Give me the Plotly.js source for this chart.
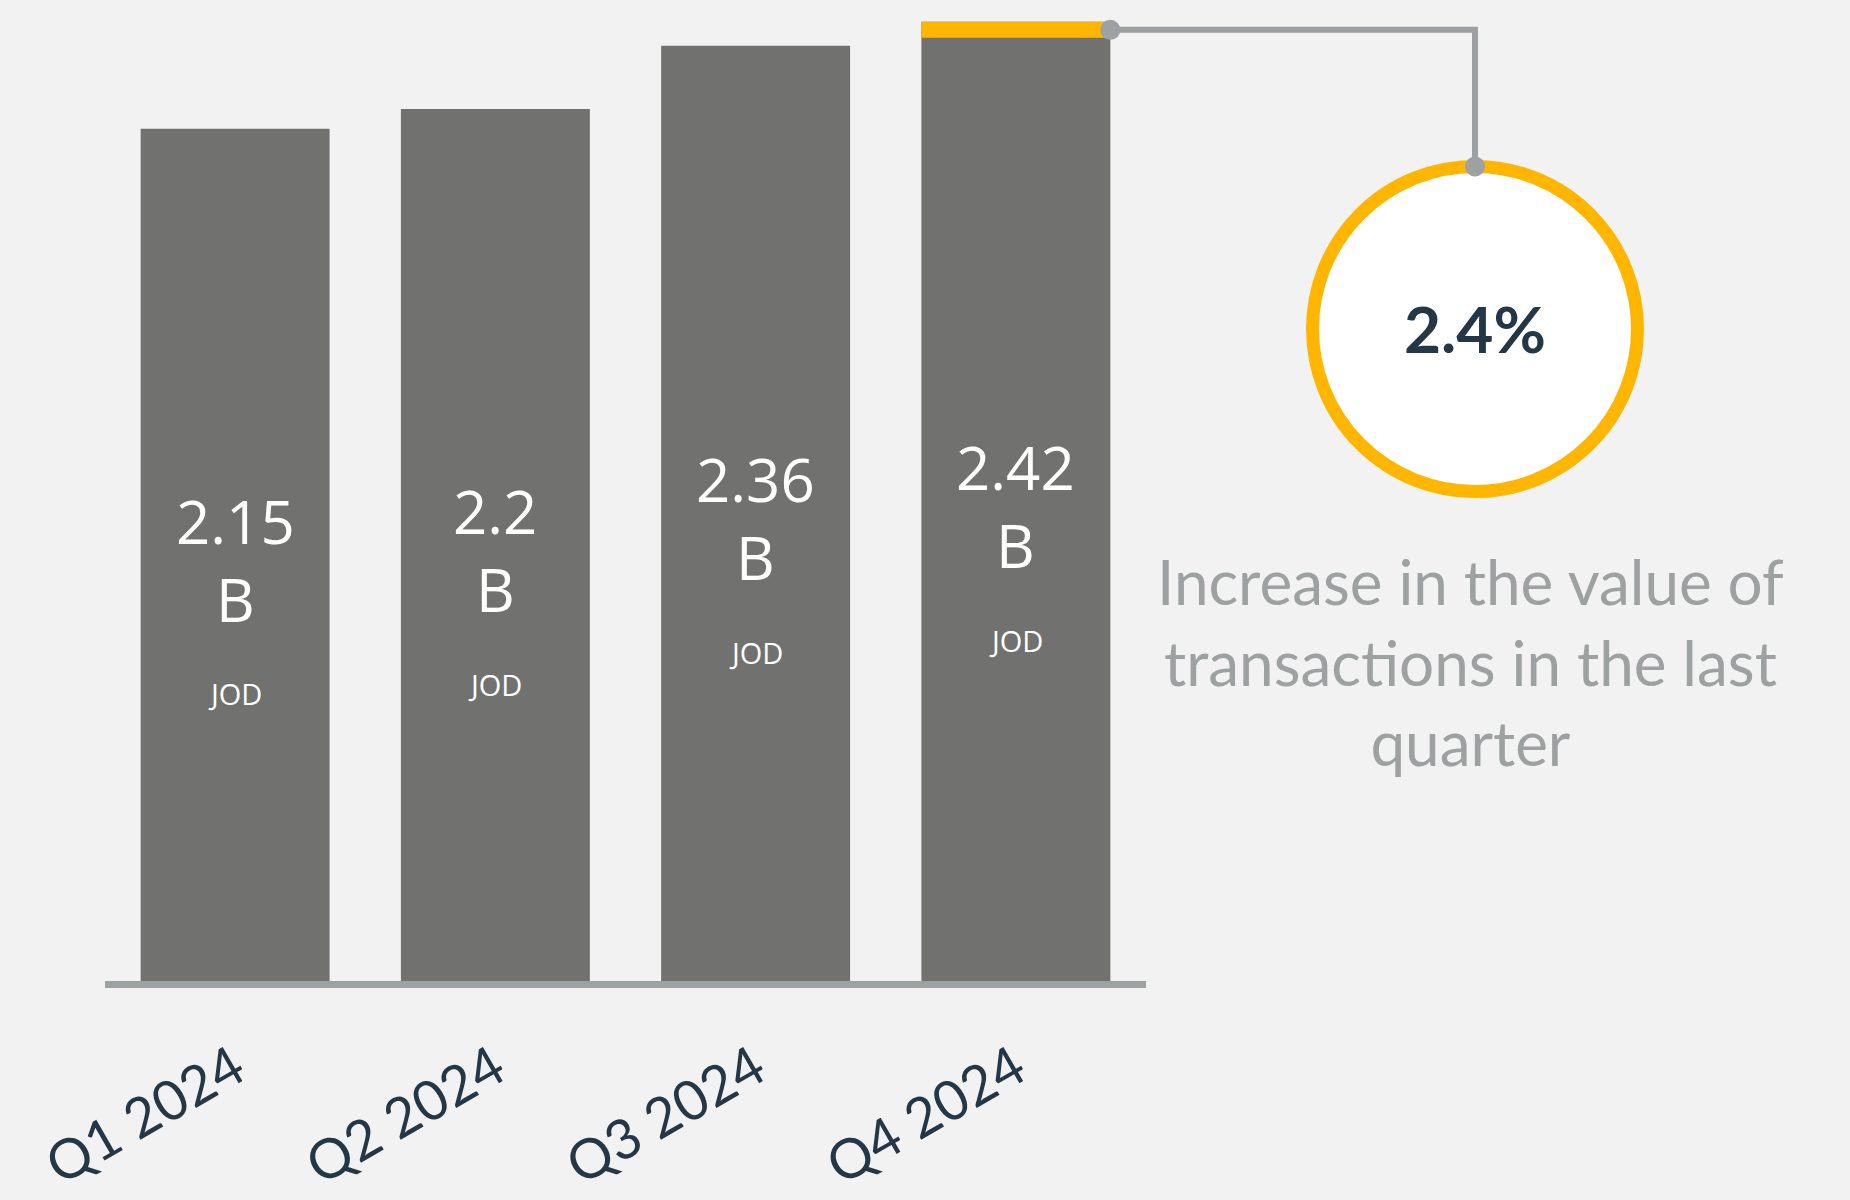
<!DOCTYPE html>
<html>
<head>
<meta charset="utf-8">
<script src="https://cdn.plot.ly/plotly-3.0.1.min.js"></script>
<style>html,body{margin:0;padding:0;background:#F2F2F2;}#chart{width:1850px;height:1200px;}</style>
</head>
<body>
<div id="chart"></div>
<script>
// ---- data ----
const quarters = ["Q1 2024", "Q2 2024", "Q3 2024", "Q4 2024"];
const values = [2.15, 2.2, 2.36, 2.42];          // billions JOD
const valueLabels = ["2.15", "2.2", "2.36", "2.42"];
const unitLabel = "B";
const currencyLabel = "JOD";
const changeLabel = "2.4%";
const changeText = "Increase in the value of<br>transactions in the last<br>quarter";

// ---- styling / geometry ----
const W = 1850, H = 1200;
const mL = 105, mR = 704, mT = 6, mB = 219;
const plotW = W - mL - mR, plotH = H - mT - mB;
const yMax = 2.46;
const bargap = 0.274;
const barHalf = (1 - bargap) / 2;
const barColor = "#717270";
const yellow = "#FFB600";
const grey = "#9EA1A1";
const navy = "#243746";

const pxToPaperX = p => (p - mL) / plotW;
const pxToPaperY = p => (H - mB - p) / plotH;

const last = values.length - 1;
// connector start: right edge of last bar, centre of the yellow cap
const capPx = 16;
const startX = (last + barHalf + 0.5) / values.length;
const startY = values[last] / yMax - (capPx / 2) / plotH;
// circle
const cX = pxToPaperX(1475), cY = pxToPaperY(329);
const rPx = 162.5;
const circleTopY = cY + rPx / plotH;

const trace = {
  type: "bar",
  x: quarters,
  y: values,
  marker: {color: barColor, line: {width: 0}},
  hoverinfo: "none"
};

const annotations = [];
quarters.forEach((q, i) => {
  annotations.push({x: q, y: values[i] / 2, xref: "x", yref: "y", text: valueLabels[i],
    showarrow: false, xanchor: "center", yshift: 34, font: {family: "Open Sans", size: 60, color: "#FFFFFF"}});
  annotations.push({x: q, y: values[i] / 2, xref: "x", yref: "y", text: unitLabel,
    showarrow: false, xanchor: "center", yshift: -44, font: {family: "Open Sans", size: 60, color: "#FFFFFF"}});
  annotations.push({x: q, y: values[i] / 2, xref: "x", yref: "y", text: currencyLabel,
    showarrow: false, xanchor: "center", yshift: -139, font: {family: "Open Sans", size: 29, color: "#FFFFFF"}});
});
annotations.push({x: cX, y: cY, xref: "paper", yref: "paper", text: "<b>" + changeLabel + "</b>",
  showarrow: false, xanchor: "center", yanchor: "middle",
  font: {family: "Lato", size: 64, color: navy}});
annotations.push({x: pxToPaperX(1470), y: pxToPaperY(661), xref: "paper", yref: "paper", text: changeText,
  showarrow: false, xanchor: "center", yanchor: "middle", align: "center",
  font: {family: "Lato", size: 62, color: grey}});

const shapes = [
  // yellow cap on latest bar
  {type: "rect", xref: "x", yref: "y", x0: last - barHalf, x1: last + barHalf,
   ysizemode: "pixel", yanchor: values[last], y0: -capPx, y1: 0,
   fillcolor: yellow, line: {width: 0}},
  // circle
  {type: "circle", xref: "paper", yref: "paper", xsizemode: "pixel", ysizemode: "pixel",
   xanchor: cX, yanchor: cY, x0: -rPx, x1: rPx, y0: -rPx, y1: rPx,
   fillcolor: "#FFFFFF", line: {color: yellow, width: 13}},
  // connector
  {type: "path", xref: "paper", yref: "paper",
   path: `M ${startX} ${startY} L ${cX} ${startY} L ${cX} ${circleTopY}`,
   line: {color: grey, width: 6}},
  // dots
  {type: "circle", xref: "paper", yref: "paper", xsizemode: "pixel", ysizemode: "pixel",
   xanchor: startX, yanchor: startY, x0: -10, x1: 10, y0: -10, y1: 10,
   fillcolor: grey, line: {width: 0}},
  {type: "circle", xref: "paper", yref: "paper", xsizemode: "pixel", ysizemode: "pixel",
   xanchor: cX, yanchor: circleTopY, x0: -10, x1: 10, y0: -10, y1: 10,
   fillcolor: grey, line: {width: 0}}
];

const layout = {
  width: W, height: H,
  margin: {l: mL, r: mR, t: mT, b: mB, pad: 0},
  paper_bgcolor: "#F2F2F2",
  plot_bgcolor: "#F2F2F2",
  showlegend: false,
  bargap: bargap,
  xaxis: {
    type: "category",
    range: [-0.5, quarters.length - 0.5],
    showline: true, linecolor: grey, linewidth: 7,
    showgrid: false, zeroline: false, ticks: "",
    tickangle: -30,
    ticklabelstandoff: 27,
    tickfont: {family: "Lato", size: 55, color: navy},
    fixedrange: true
  },
  yaxis: {
    range: [0, yMax], visible: false, showgrid: false, zeroline: false, fixedrange: true
  },
  annotations: annotations,
  shapes: shapes
};

Plotly.newPlot("chart", [trace], layout, {staticPlot: true, displayModeBar: false});
</script>
</body>
</html>
